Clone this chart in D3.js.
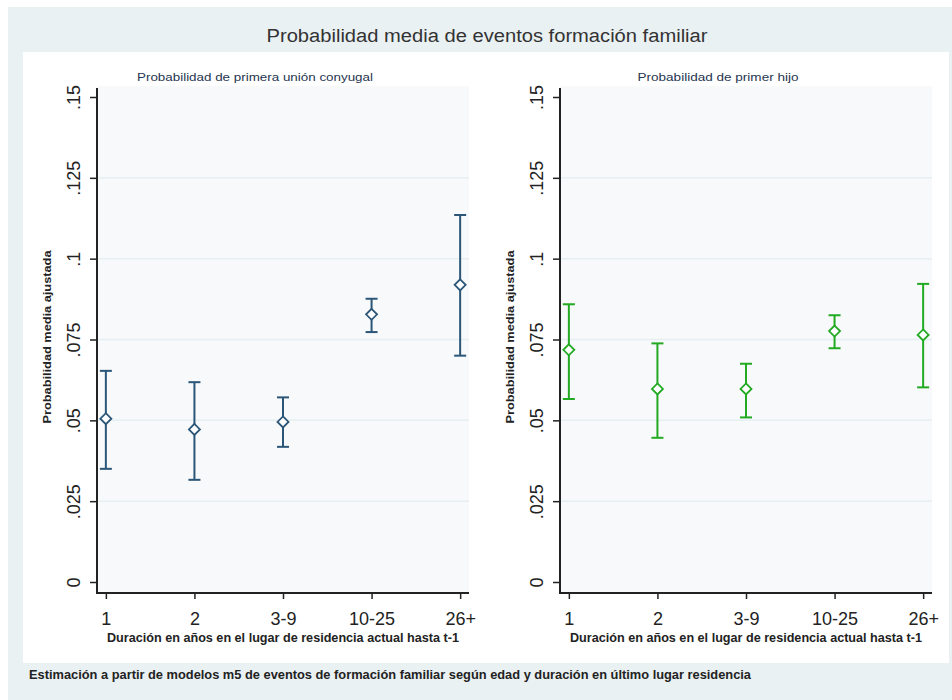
<!DOCTYPE html>
<html>
<head>
<meta charset="utf-8">
<script src="https://cdn.jsdelivr.net/npm/d3@7"></script>
<style>
  html, body { margin: 0; padding: 0; background: #ffffff; }
  svg { display: block; font-family: "Liberation Sans", Arial, sans-serif; }
</style>
</head>
<body>
<svg id="chart" width="952" height="700"></svg>
<script>
// ---- Data ----
const categories = ["1", "2", "3-9", "10-25", "26+"];
const unionMean = [0.0505, 0.0472, 0.0495, 0.0828, 0.0919];
const unionLow  = [0.0350, 0.0316, 0.0418, 0.0773, 0.0700];
const unionHigh = [0.0653, 0.0618, 0.0571, 0.0876, 0.1135];
const hijoMean  = [0.0718, 0.0597, 0.0597, 0.0776, 0.0764];
const hijoLow   = [0.0566, 0.0446, 0.0509, 0.0723, 0.0602];
const hijoHigh  = [0.0859, 0.0738, 0.0675, 0.0825, 0.0922];
const yTicks = [0, 0.025, 0.05, 0.075, 0.1, 0.125, 0.15];
const yTickLabels = ["0", ".025", ".05", ".075", ".1", ".125", ".15"];
const gridTicks = [0.025, 0.05, 0.075, 0.1, 0.125];

const mainTitle = "Probabilidad media de eventos formación familiar";
const panelTitles = ["Probabilidad de primera unión conyugal", "Probabilidad de primer hijo"];
const yTitle = "Probabilidad media ajustada";
const xTitle = "Duración en años en el lugar de residencia actual hasta t-1";
const note = "Estimación a partir de modelos m5 de eventos de formación familiar según edad y duración en último lugar residencia";

const svg = d3.select("#chart");

// backgrounds
svg.append("rect").attr("x", 8).attr("y", 7).attr("width", 944).attr("height", 693).attr("fill", "#eaf1f3");
svg.append("rect").attr("x", 23).attr("y", 52).attr("width", 926).attr("height", 611).attr("fill", "#ffffff");

// main title
svg.append("text").attr("x", 487).attr("y", 42).attr("text-anchor", "middle")
  .attr("font-size", 18).attr("fill", "#333333")
  .attr("textLength", 441).attr("lengthAdjust", "spacingAndGlyphs").text(mainTitle);

// note
svg.append("text").attr("x", 29).attr("y", 679)
  .attr("font-size", 12).attr("font-weight", "bold").attr("fill", "#222")
  .attr("textLength", 722).attr("lengthAdjust", "spacingAndGlyphs").text(note);

const panels = [
  { x0: 97, x1: 469, title: panelTitles[0], titleX: 255, titleW: 236, mean: unionMean, low: unionLow, high: unionHigh, color: "#2c5678", yTitleX: 51 },
  { x0: 560, x1: 932, title: panelTitles[1], titleX: 718, titleW: 161, mean: hijoMean, low: hijoLow, high: hijoHigh, color: "#22aa22", yTitleX: 514 }
];

const yTop = 86, yBot = 593;
const y = d3.scaleLinear().domain([0, 0.15]).range([582, 97]);

panels.forEach(p => {
  const g = svg.append("g");
  const x = d3.scalePoint().domain(categories).range([p.x0, p.x1]).padding(0.1);

  // plot region
  g.append("rect").attr("x", p.x0).attr("y", yTop).attr("width", p.x1 - p.x0).attr("height", yBot - yTop)
    .attr("fill", "#f7f9fa");

  // gridlines
  g.selectAll(".grid").data(gridTicks).enter().append("line")
    .attr("x1", p.x0).attr("x2", p.x1)
    .attr("y1", d => y(d)).attr("y2", d => y(d))
    .attr("stroke", "#e6eff2").attr("stroke-width", 1.5);

  // subtitle
  g.append("text").attr("x", p.titleX).attr("y", 81).attr("text-anchor", "middle")
    .attr("font-size", 11).attr("fill", "#1f3550")
    .attr("textLength", p.titleW).attr("lengthAdjust", "spacingAndGlyphs").text(p.title);

  // y axis
  const yAxis = d3.axisLeft(y).tickValues(yTicks)
    .tickFormat((d, i) => yTickLabels[i]).tickSize(7).tickSizeOuter(0).tickPadding(0);
  const ya = g.append("g").attr("transform", `translate(${p.x0},0)`).call(yAxis);
  ya.select(".domain").remove();
  ya.selectAll(".tick line").attr("stroke", "#222").attr("stroke-width", 1.5);
  ya.selectAll(".tick text")
    .attr("x", null).attr("dy", null)
    .attr("transform", "translate(-17,0) rotate(-90)")
    .attr("text-anchor", "middle")
    .attr("font-size", 18).attr("fill", "#222")
    .attr("font-family", "\"Liberation Sans\", Arial, sans-serif");
  g.append("line").attr("x1", p.x0).attr("x2", p.x0).attr("y1", 88).attr("y2", yBot + 1)
    .attr("stroke", "#222").attr("stroke-width", 2);

  // x axis
  const xAxis = d3.axisBottom(x).tickSize(6).tickSizeOuter(0).tickPadding(13);
  const xa = g.append("g").attr("transform", `translate(0,${yBot})`).call(xAxis);
  xa.select(".domain").remove();
  xa.selectAll(".tick line").attr("stroke", "#222").attr("stroke-width", 1.5);
  xa.selectAll(".tick text").attr("font-size", 18).attr("fill", "#222")
    .attr("font-family", "\"Liberation Sans\", Arial, sans-serif");
  g.append("line").attr("x1", p.x0 - 1).attr("x2", p.x1).attr("y1", yBot).attr("y2", yBot)
    .attr("stroke", "#222").attr("stroke-width", 2);

  // axis titles
  g.append("text").attr("x", (x(categories[0]) + x(categories[4])) / 2).attr("y", 642)
    .attr("text-anchor", "middle").attr("font-size", 12).attr("font-weight", "bold").attr("fill", "#222")
    .attr("textLength", 352).attr("lengthAdjust", "spacingAndGlyphs").text(xTitle);
  g.append("text").attr("transform", `translate(${p.yTitleX},337) rotate(-90)`)
    .attr("text-anchor", "middle").attr("font-size", 11).attr("font-weight", "bold").attr("fill", "#222")
    .attr("textLength", 173).attr("lengthAdjust", "spacingAndGlyphs").text(yTitle);

  // error bars
  const idx = d3.range(categories.length);
  const bars = g.append("g");
  bars.selectAll(".v").data(idx).enter().append("line")
    .attr("x1", i => x(categories[i])).attr("x2", i => x(categories[i]))
    .attr("y1", i => y(p.low[i])).attr("y2", i => y(p.high[i]))
    .attr("stroke", p.color).attr("stroke-width", 2);
  bars.selectAll(".ch").data(idx).enter().append("line")
    .attr("x1", i => x(categories[i]) - 6).attr("x2", i => x(categories[i]) + 6)
    .attr("y1", i => y(p.high[i])).attr("y2", i => y(p.high[i]))
    .attr("stroke", p.color).attr("stroke-width", 2);
  bars.selectAll(".cl").data(idx).enter().append("line")
    .attr("x1", i => x(categories[i]) - 6).attr("x2", i => x(categories[i]) + 6)
    .attr("y1", i => y(p.low[i])).attr("y2", i => y(p.low[i]))
    .attr("stroke", p.color).attr("stroke-width", 2);

  // diamond markers
  const diamond = "M0,-5.5L5.5,0L0,5.5L-5.5,0Z";
  bars.selectAll(".m").data(idx).enter().append("path")
    .attr("d", diamond)
    .attr("transform", i => `translate(${x(categories[i])},${y(p.mean[i])})`)
    .attr("fill", "#ffffff").attr("stroke", p.color).attr("stroke-width", 1.8);
});
</script>
</body>
</html>
